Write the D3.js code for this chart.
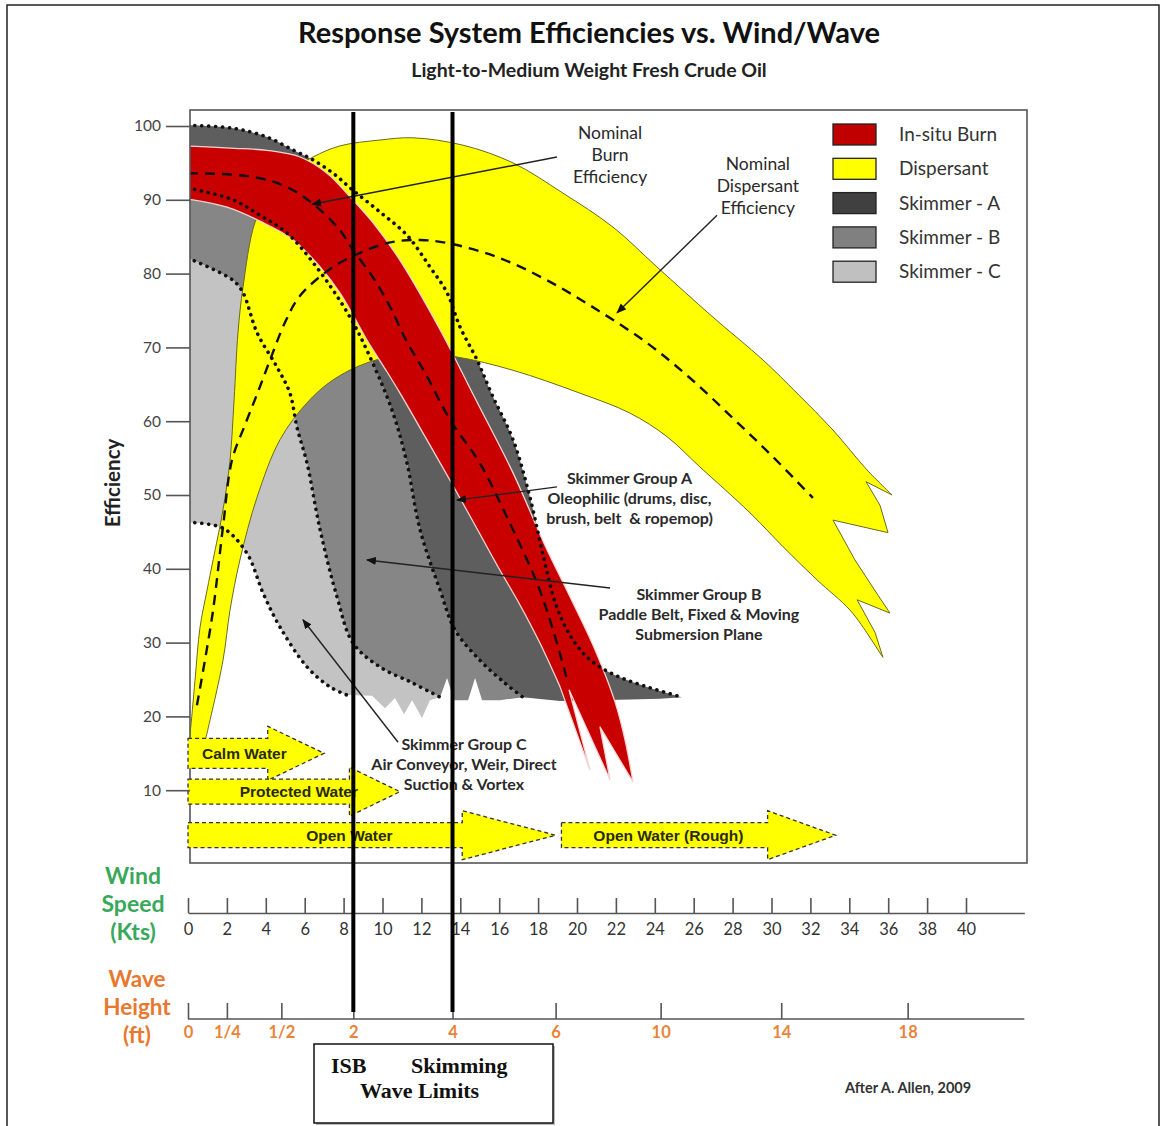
<!DOCTYPE html>
<html><head><meta charset="utf-8">
<script src="https://cdn.jsdelivr.net/npm/d3@7"></script>
<style>
body{margin:0;background:#fff;}
svg{display:block;}
</style></head><body>
<svg id="c" width="1162" height="1126"></svg>
<script>
// ---------------- DATA (wind speed in knots, efficiency in %) ----------------
const effTicks = [10,20,30,40,50,60,70,80,90,100];
const windTicks = [0,2,4,6,8,10,12,14,16,18,20,22,24,26,28,30,32,34,36,38,40];
const waveTickValues = [0,0.25,0.5,2,4,6,10,14,18];
const waveTickLabels = ["0","1/4","1/2","2","4","6","10","14","18"];
const waveAtWind = [0,2,4.8,8.5,13.6,18.9,24.3,30.5,37.0];   // wind speed that matches each wave height
const waveLimits = [2,4];                                    // ISB and skimming wave limits (ft)

const legendNames = ["In-situ Burn","Dispersant","Skimmer - A","Skimmer - B","Skimmer - C"];
const legendColors = ["#c00000","#ffff00","#404040","#808080","#c0c0c0"];

// In-situ burn band
const burnUpper = [[0,97.3],[2.16,97.0],[4.06,96.7],[5.76,95.8],[7.15,93.6],[8.33,90.4],[9.51,86.9],[10.9,81.8],[12.96,72.4],[14.76,63.1],[16.71,53.0],[18.35,43.2],[19.64,36.2],[20.93,29.0],[21.95,22.0],[22.47,16.8],[22.88,11.1]];
const burnProngs = [[21.18,18.6],[21.70,11.4],[19.59,23.6],[20.67,12.7]];
const burnLower = [[19.13,24.0],[18.10,29.9],[17.07,35.1],[16.04,39.8],[14.76,45.9],[13.47,52.0],[12.19,57.9],[10.90,63.8],[10.23,66.7],[9.20,71.0],[8.48,74.4],[7.81,77.4],[6.79,80.9],[5.40,84.6],[3.70,87.1],[2.01,89.0],[0,90.1]];
const burnNominal = [[0,93.6],[2.31,93.4],[4.06,92.7],[5.40,91.3],[6.63,89.0],[7.81,85.9],[8.48,83.2],[9.51,79.5],[10.39,75.5],[11.21,71.0],[12.24,66.3],[13.47,60.2],[15.01,54.3],[16.40,47.0],[17.94,38.1],[18.77,31.7],[19.54,24.5]];

// Dispersant band
const dispOuter = [[0,16.5],[0.1,17.75],[0.36,24.9],[0.62,32.1],[0.98,37.1],[1.29,41.2],[1.80,48.0],[2.16,54.7],[2.37,62.9],[2.57,72.0],[2.83,78.2],[3.44,86.9],[4.22,90.9],[5.24,93.8],[6.43,95.8],[7.81,97.3],[9.87,98.1],[11.57,98.4],[14.14,97.4],[16.71,95.0],[19.28,90.9],[21.85,86.3],[24.11,80.9],[26.99,74.1],[29.56,68.3],[31.31,63.8],[33.16,58.8],[34.91,53.4],[36.2,50.0]];
const dispProngs = [[34.86,51.8],[35.58,48.6],[35.99,44.9],[33.16,46.6],[34.29,41.2],[35.48,36.4],[36.09,34.0],[34.40,35.8],[35.32,31.4],[35.73,28.0]];
const dispInner = [[34.91,31.3],[34.04,34.4],[32.34,38.5],[30.59,43.0],[28.89,47.6],[26.32,53.8],[24.63,57.9],[22.72,61.1],[20.15,63.8],[16.71,66.9],[13.83,68.7],[11.57,69.2],[9.20,67.9],[7.46,65.6],[6.12,62.5],[4.73,57.5],[3.55,49.7],[2.67,41.2],[2.16,34.4],[1.80,27.6],[0.98,17.75],[0.87,16.5]];
const dispNominal = [[0.46,21.5],[0.87,27.6],[1.29,34.4],[1.80,45.7],[2.26,54.7],[2.93,59.5],[3.60,64.0],[4.22,68.3],[4.99,73.4],[5.76,77.0],[7.46,80.9],[9.20,83.2],[10.54,84.3],[11.93,84.55],[13.32,84.15],[15.89,82.25],[18.46,79.1],[21.03,75.1],[23.60,70.6],[25.81,65.85],[28.02,60.4],[30.08,55.15],[32.13,49.6]];

// Skimmer groups (dotted boundaries)
const skimATop = [[0,100.1],[2.31,99.7],[4.06,98.5],[5.40,96.75],[6.43,95.4],[7.46,93.6],[8.48,91.3],[9.87,88.35],[11.26,85.2],[12.44,80.9],[13.32,77.4],[13.98,72.8],[14.86,68.3],[15.68,63.3],[16.71,57.5],[17.58,49.7],[18.25,41.9],[18.92,35.1],[19.64,31.0],[20.41,28.3],[21.18,26.7],[22.21,25.3],[23.60,24.0],[25.40,22.6]];
const skimABottom = [[24.27,22.4],[21.18,22.2],[19.13,22.1],[17.22,22.6]];
const skimBUpper = [[0,91.6],[2.31,90.0],[3.70,87.9],[5.09,85.5],[6.63,80.8],[8.33,74.1],[9.51,67.8],[10.54,61.1],[11.26,54.3],[11.93,45.3],[12.96,37.1],[13.73,31.7],[15.01,27.6],[16.30,24.5],[17.22,22.6]];
const skimBJag = [[13.32,25.2],[13.68,22.2],[14.40,22.2],[14.76,25.2],[15.12,22.2],[16.04,22.2],[17.22,22.6]];
const skimBLower = [[0,82.1],[2.31,79.1],[2.83,77.4],[3.55,72.0],[4.58,67.3],[5.24,63.8],[5.60,59.2],[6.12,54.3],[6.79,45.3],[7.66,36.2],[8.48,29.95],[9.87,26.7],[11.57,24.5],[12.96,22.6]];
const skimCJag = [[12.44,22.2],[12.03,19.8],[11.52,22.2],[11.11,20.3],[10.64,22.5],[10.13,21.1],[9.46,22.8],[8.17,22.9]];
const skimCLower = [[0,46.3],[1.80,45.5],[3.03,42.1],[3.86,36.7],[4.73,32.1],[6.12,26.7],[7.30,24.0],[8.17,22.9]];

// Water condition arrows
const zoneNames = ["Calm Water","Protected Water","Open Water","Open Water (Rough)"];
const zoneStart = [0,0,0,19.2];
const zoneHeadStart = [4.1,8.3,14.1,29.8];
const zoneTip = [7.0,10.9,18.9,33.3];
const zoneLevel = [15.0,9.8,3.9,3.9];
const zoneTextAt = [2.9,5.7,8.3,24.7];

// Annotations
const annoLines = [
  ["Nominal","Burn","Efficiency"],
  ["Nominal","Dispersant","Efficiency"],
  ["Skimmer Group A","Oleophilic (drums, disc,","brush, belt \u00a0& ropemop)"],
  ["Skimmer Group B","Paddle Belt, Fixed & Moving","Submersion Plane"],
  ["Skimmer Group C","Air Conveyor, Weir, Direct","Suction & Vortex"]
];
// [from wind, from eff, to wind, to eff]
const annoArrows = [[18.97,95.8,6.38,89.4],[27.2,87.9,22.06,74.7],[18.97,51.1,13.83,49.3],[21.70,37.4,9.20,41.2],[10.80,16.5,5.91,33.1]];
const annoTextAt = [[21.7,98.2],[29.3,94.0],[22.7,51.5],[26.27,35.8],[14.19,15.4]];

// ---------------- DRAWING ----------------
const svg = d3.select("#c");
const x = d3.scaleLinear().domain([0,43]).range([188,188+43*19.45]);
const y = d3.scaleLinear().domain([0,100]).range([864,126]);
const wave = d3.scaleLinear().domain(waveTickValues).range(waveAtWind.map(x));

const FONT = "Lato, 'Open Sans', sans-serif";

// outer frame
svg.append("path").attr("d","M7,1126V5H1159V1126").attr("fill","none").attr("stroke","#222").attr("stroke-width",1.5);

// title
svg.append("text").attr("x",589).attr("y",43).attr("text-anchor","middle")
  .attr("font-family",FONT).attr("font-weight",700).attr("font-size",29).attr("fill","#111")
  .text("Response System Efficiencies vs. Wind/Wave");
svg.append("text").attr("x",589).attr("y",77).attr("text-anchor","middle")
  .attr("font-family",FONT).attr("font-weight",700).attr("font-size",19.5).attr("fill","#222")
  .text("Light-to-Medium Weight Fresh Crude Oil");

// plot clip + arrow marker
const defs = svg.append("defs");
defs.append("clipPath").attr("id","plotclip").append("rect").attr("x",190).attr("y",110).attr("width",837).attr("height",753);
const mk = defs.append("marker").attr("id","ah").attr("viewBox","0 0 10 10").attr("refX",9).attr("refY",5)
  .attr("markerWidth",10).attr("markerHeight",10).attr("markerUnits","userSpaceOnUse").attr("orient","auto");
mk.append("path").attr("d","M0,1L10,5L0,9Z").attr("fill","#111");

const P = arr => arr.map(d => [x(d[0]), y(d[1])]);
const smooth = d3.line().curve(d3.curveCatmullRom.alpha(0.5));
const straight = d3.line();
function joinPath(parts){
  let s = "";
  parts.forEach((p,i) => {
    let seg = (p[1] ? smooth : straight)(P(p[0]));
    if (i > 0) seg = seg.replace(/^M/, "L");
    s += seg;
  });
  return s + "Z";
}
const rev = a => a.slice().reverse();

const g = svg.append("g").attr("clip-path","url(#plotclip)");

// Skimmer A
g.append("path").attr("d", joinPath([[skimATop,true],[skimABottom,false],[rev(skimBUpper),true]]))
  .attr("fill","#5e5e5e");
// Skimmer B
g.append("path").attr("d", joinPath([[skimBUpper,true],[rev(skimBJag),false],[rev(skimBLower),true]]))
  .attr("fill","#868686");
// Skimmer C
g.append("path").attr("d", joinPath([[skimBLower,true],[skimCJag,false],[rev(skimCLower),true]]))
  .attr("fill","#c3c3c3");
// Dispersant
g.append("path").attr("d", joinPath([[dispOuter,true],[dispProngs,false],[dispInner,true]]))
  .attr("fill","#ffff00").attr("stroke","#6a6a22").attr("stroke-width",1);
// In-situ burn
g.append("path").attr("d", joinPath([[burnUpper,true],[burnProngs,false],[burnLower,true]]))
  .attr("fill","#c80000").attr("stroke","#f6d4d4").attr("stroke-width",1.3);

// dotted skimmer boundaries
[skimATop, skimBUpper, skimBLower, skimCLower].forEach(a => {
  g.append("path").attr("d", smooth(P(a))).attr("fill","none").attr("stroke","#111")
    .attr("stroke-width",3.6).attr("stroke-linecap","round").attr("stroke-dasharray","0.1 6.8");
});
// nominal dashed lines
[burnNominal, dispNominal].forEach(a => {
  g.append("path").attr("d", smooth(P(a))).attr("fill","none").attr("stroke","#111")
    .attr("stroke-width",2.4).attr("stroke-dasharray","10 7");
});

// plot frame
svg.append("rect").attr("x",190).attr("y",110).attr("width",837).attr("height",753)
  .attr("fill","none").attr("stroke","#555").attr("stroke-width",1.6);

// annotations
annoArrows.forEach(a => {
  svg.append("line").attr("x1",x(a[0])).attr("y1",y(a[1])).attr("x2",x(a[2])).attr("y2",y(a[3]))
    .attr("stroke","#222").attr("stroke-width",1.4).attr("marker-end","url(#ah)");
});
annoLines.forEach((lines,i) => {
  const big = i < 2;
  const t = svg.append("text").attr("text-anchor","middle").attr("font-family",FONT)
    .attr("font-size", big ? 17.5 : 16).attr("font-weight", big ? 400 : 700).attr("fill","#2a2a2a");
  lines.forEach((l,j) => {
    t.append("tspan").attr("x", x(annoTextAt[i][0])).attr("y", y(annoTextAt[i][1]) + j*(big ? 22 : 20)).text(l);
  });
});

// water condition arrows
zoneNames.forEach((n,i) => {
  const cy = y(zoneLevel[i]);
  const bh = i === 0 ? 15 : 12.5, hh = i === 0 ? 27 : 24.5;
  const x0 = x(zoneStart[i]), xh = x(zoneHeadStart[i]), xt = x(zoneTip[i]);
  svg.append("path")
    .attr("d", `M${x0},${cy-bh}H${xh}V${cy-hh}L${xt},${cy}L${xh},${cy+hh}V${cy+bh}H${x0}Z`)
    .attr("fill","#ffff00").attr("stroke","#333").attr("stroke-width",1.3).attr("stroke-dasharray","4 3");
  svg.append("text").attr("x", x(zoneTextAt[i])).attr("y", cy + 5.5).attr("text-anchor","middle")
    .attr("font-family","'Liberation Sans', Arial, sans-serif").attr("font-weight",700).attr("font-size",15.5)
    .attr("fill","#2a2a10").text(n);
});

// legend
legendNames.forEach((n,i) => {
  const ty = 124 + i*34.3;
  svg.append("rect").attr("x",833).attr("y",ty).attr("width",43).attr("height",21)
    .attr("fill",legendColors[i]).attr("stroke","#222").attr("stroke-width",1.3);
  svg.append("text").attr("x",899).attr("y",ty+17).attr("font-family",FONT).attr("font-size",19)
    .attr("fill","#333").text(n);
});

// y axis
const yAx = svg.append("g").attr("transform","translate(190,0)")
  .call(d3.axisLeft(y).tickValues(effTicks).tickSize(24).tickPadding(5).tickSizeOuter(0));
yAx.select(".domain").remove();
yAx.selectAll(".tick line").attr("stroke","#555").attr("stroke-width",1.6);
yAx.selectAll(".tick text").attr("font-family",FONT).attr("font-size",15.5).attr("fill","#444");
svg.append("text").attr("transform","translate(120,483) rotate(-90)").attr("text-anchor","middle")
  .attr("font-family",FONT).attr("font-weight",700).attr("font-size",20.5).attr("fill","#222").text("Efficiency");

// wind speed axis
const wAx = svg.append("g").attr("transform","translate(0,913)")
  .call(d3.axisBottom(x).tickValues(windTicks).tickSize(-15).tickSizeOuter(0).tickPadding(10));
wAx.select(".domain").attr("stroke","#555").attr("stroke-width",1.6);
wAx.selectAll(".tick line").attr("stroke","#555").attr("stroke-width",1.6);
wAx.selectAll(".tick text").attr("font-family",FONT).attr("font-size",16.5).attr("fill","#333");
["Wind","Speed","(Kts)"].forEach((t,i) => {
  svg.append("text").attr("x",133).attr("y",884+i*28).attr("text-anchor","middle").attr("font-family",FONT)
    .attr("font-weight",700).attr("font-size",23).attr("fill","#3aa85a").text(t);
});

// wave height axis
svg.append("line").attr("x1",x(0)).attr("x2",x(43)).attr("y1",1019).attr("y2",1019)
  .attr("stroke","#555").attr("stroke-width",1.6);
const vAx = svg.append("g").attr("transform","translate(0,1019)")
  .call(d3.axisBottom(wave).tickValues(waveTickValues).tickFormat((d,i) => waveTickLabels[i])
    .tickSize(-16).tickSizeOuter(0).tickPadding(7));
vAx.select(".domain").remove();
vAx.selectAll(".tick line").attr("stroke","#555").attr("stroke-width",1.6);
vAx.selectAll(".tick text").attr("font-family",FONT).attr("font-weight",700).attr("font-size",16.5).attr("fill","#e8843a");
["Wave","Height","(ft)"].forEach((t,i) => {
  svg.append("text").attr("x",137).attr("y",987+i*28).attr("text-anchor","middle").attr("font-family",FONT)
    .attr("font-weight",700).attr("font-size",22.5).attr("fill","#e8782e").text(t);
});

// wave limit lines
waveLimits.forEach(w => {
  svg.append("line").attr("x1",wave(w)).attr("x2",wave(w)).attr("y1",112).attr("y2",1012)
    .attr("stroke","#000").attr("stroke-width",4);
});

// ISB box
svg.append("rect").attr("x",316).attr("y",1046).attr("width",239).attr("height",79).attr("fill","#bbb");
svg.append("rect").attr("x",314).attr("y",1044).attr("width",239).attr("height",79)
  .attr("fill","#fff").attr("stroke","#111").attr("stroke-width",1.5);
const SERIF = "'Liberation Serif','Times New Roman',serif";
svg.append("text").attr("x",331).attr("y",1073).attr("font-family",SERIF).attr("font-weight",700).attr("font-size",22).attr("fill","#111").text("ISB");
svg.append("text").attr("x",411).attr("y",1073).attr("font-family",SERIF).attr("font-weight",700).attr("font-size",22).attr("fill","#111").text("Skimming");
svg.append("text").attr("x",360).attr("y",1098).attr("font-family",SERIF).attr("font-weight",700).attr("font-size",22).attr("fill","#111").text("Wave Limits");

svg.append("text").attr("x",845).attr("y",1093).attr("font-family",FONT).attr("font-weight",700).attr("font-size",14.5)
  .attr("fill","#333").text("After A. Allen, 2009");
</script></body></html>
